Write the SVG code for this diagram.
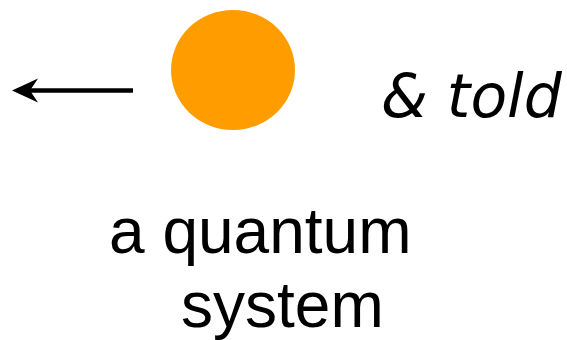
<svg xmlns="http://www.w3.org/2000/svg" width="567" height="340" viewBox="0 0 567 340">
<style>
.lbl{font-family:"Liberation Sans",Arial,sans-serif;font-size:64px;fill:#000}
.it{font-family:"DejaVu Sans",sans-serif;font-style:italic;font-size:60px;fill:#000}
</style>
<defs>
<marker id="ah" markerUnits="userSpaceOnUse" markerWidth="30" markerHeight="28" refX="18" refY="13" orient="auto">
<path d="M0,1 L26,13 L0,25 L8,13 Z" fill="#000"/>
</marker>
</defs>
<rect width="567" height="340" fill="#fff"/>
<g id="connectors">
<line x1="133" y1="90.5" x2="20" y2="90.5" stroke="#000" stroke-width="4.5" marker-end="url(#ah)"/>
</g>
<g id="particle">
<ellipse cx="233" cy="70" rx="62" ry="60" fill="#ff9c00"/>
</g>
<g id="told">
<text class="it" x="381" y="117">&amp; told</text>
</g>
<g id="system-label">
<text class="lbl" x="109" y="253">a quantum</text>
<text class="lbl" x="181" y="327">system</text>
</g>
</svg>
